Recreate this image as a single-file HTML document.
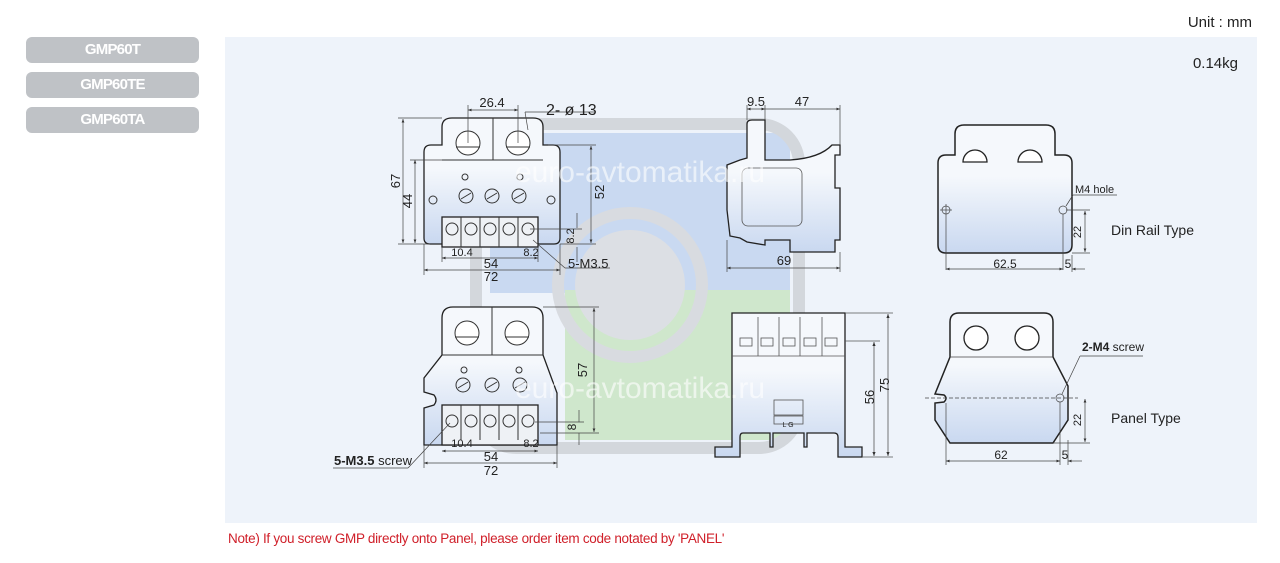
<!DOCTYPE html>
<html><head><meta charset="utf-8"><style>
body{margin:0;width:1280px;height:563px;background:#fff;font-family:"Liberation Sans",sans-serif;overflow:hidden;position:relative}
.tab{position:absolute;left:26px;width:173px;height:26px;background:#bfc2c6;border-radius:6px;color:#fff;font-weight:bold;font-size:15px;line-height:26px;text-align:center;letter-spacing:-0.8px}
.t{font-family:"Liberation Sans",sans-serif;fill:#222}
</style></head><body>
<div class="tab" style="top:37px">GMP60T</div>
<div class="tab" style="top:72px">GMP60TE</div>
<div class="tab" style="top:107px">GMP60TA</div>
<div style="position:absolute;right:28px;top:14px;font-size:15px;color:#222">Unit : mm</div>
<div style="position:absolute;left:228px;top:531px;font-size:13.5px;color:#d0202a;letter-spacing:-0.3px">Note) If you screw GMP directly onto Panel, please order item code notated by 'PANEL'</div>
<svg width="1280" height="563" style="position:absolute;left:0;top:0" xmlns="http://www.w3.org/2000/svg">
<defs>
<linearGradient id="g" x1="0" y1="0" x2="0" y2="1"><stop offset="0.4" stop-color="#f5f8fc"/><stop offset="1" stop-color="#c9d8f0"/></linearGradient>
<marker id="a" markerWidth="6" markerHeight="6" refX="5" refY="3" orient="auto-start-reverse"><path d="M0,1 L5,3 L0,5z" fill="#333"/></marker>
</defs>
<rect x="225" y="37" width="1032" height="486" fill="#eef3fa"/>
<text x="1238" y="68" font-size="15" class="t" text-anchor="end">0.14kg</text>
<!-- watermark -->
<rect x="490" y="133" width="300" height="160" fill="#c9d9f1"/>
<rect x="565" y="290" width="225" height="150" fill="#cfe7cc"/>
<rect x="476" y="124" width="323" height="324" rx="40" fill="none" stroke="#d3d7dc" stroke-width="12"/>
<circle cx="630" cy="285" r="72" fill="none" stroke="#d8dbe0" stroke-width="12"/>
<circle cx="630" cy="285" r="55" fill="#dcdfe4"/>
<!-- TOP FRONT -->
<g stroke="#222" stroke-width="1.3" fill="url(#g)">
<path d="M442,127 Q442,118 452,118 L533,118 Q543,118 543,127 L543,145 L553,145 Q560,145 560,152 L560,238 Q560,244 554,244 L430,244 Q424,244 424,238 L424,152 Q424,145 431,145 L442,145 Z"/>
<rect x="442" y="217" width="96" height="30" fill="#eef1f5"/>
</g>
<g stroke="#333" fill="none" stroke-width="1">
<line x1="493" y1="118" x2="493" y2="160"/><line x1="442" y1="160" x2="543" y2="160"/>
<circle cx="468" cy="143" r="12" fill="#fff"/><circle cx="518" cy="143" r="12" fill="#fff"/>
<line x1="456" y1="147" x2="480" y2="147"/><line x1="506" y1="147" x2="530" y2="147"/>
<circle cx="433" cy="200" r="4"/><circle cx="551" cy="200" r="4"/>
<circle cx="465" cy="177" r="3"/><circle cx="520" cy="177" r="3"/>
<circle cx="466" cy="196" r="7"/><circle cx="492" cy="196" r="7"/><circle cx="519" cy="196" r="7"/>
<line x1="461" y1="199" x2="471" y2="193"/><line x1="487" y1="199" x2="497" y2="193"/><line x1="514" y1="199" x2="524" y2="193"/>
<line x1="461" y1="217" x2="461" y2="247"/><line x1="480" y1="217" x2="480" y2="247"/><line x1="499" y1="217" x2="499" y2="247"/><line x1="518" y1="217" x2="518" y2="247"/>
<circle cx="452" cy="229" r="6"/><circle cx="471" cy="229" r="6"/><circle cx="490" cy="229" r="6"/><circle cx="509" cy="229" r="6"/><circle cx="528" cy="229" r="6"/>
</g>
<g stroke="#444" stroke-width="0.7" fill="none">
<line x1="468" y1="110" x2="518" y2="110" marker-start="url(#a)" marker-end="url(#a)"/>
<line x1="468" y1="105" x2="468" y2="143"/><line x1="518" y1="105" x2="518" y2="143"/>
<line x1="403" y1="119" x2="403" y2="243" marker-start="url(#a)" marker-end="url(#a)"/>
<line x1="398" y1="118" x2="442" y2="118"/><line x1="398" y1="244" x2="430" y2="244"/>
<line x1="415" y1="160" x2="415" y2="243" marker-start="url(#a)" marker-end="url(#a)"/>
<line x1="410" y1="160" x2="442" y2="160"/>
<line x1="591" y1="146" x2="591" y2="243" marker-start="url(#a)" marker-end="url(#a)"/>
<line x1="548" y1="145" x2="596" y2="145"/><line x1="560" y1="244" x2="596" y2="244"/>
<line x1="577" y1="213" x2="577" y2="228"/><line x1="577" y1="262" x2="577" y2="247"/>
<line x1="530" y1="229" x2="582" y2="229"/>
<line x1="424" y1="270" x2="560" y2="270" marker-start="url(#a)" marker-end="url(#a)"/>
<line x1="442" y1="258" x2="538" y2="258" marker-start="url(#a)" marker-end="url(#a)"/>
<line x1="424" y1="244" x2="424" y2="275"/><line x1="560" y1="244" x2="560" y2="275"/>
<line x1="442" y1="247" x2="442" y2="262"/><line x1="538" y1="247" x2="538" y2="262"/>
<line x1="525" y1="112" x2="595" y2="112"/><line x1="525" y1="112" x2="528" y2="130"/>
<line x1="533" y1="240" x2="565" y2="268"/><line x1="565" y1="268" x2="610" y2="268"/>
</g>
<text x="492" y="107" font-size="13" class="t" text-anchor="middle">26.4</text>
<text x="546" y="115" font-size="16" class="t">2- ø 13</text>
<text x="400" y="181" font-size="13" class="t" text-anchor="middle" transform="rotate(-90 400 181)">67</text>
<text x="412" y="201" font-size="13" class="t" text-anchor="middle" transform="rotate(-90 412 201)">44</text>
<text x="604" y="192" font-size="13" class="t" text-anchor="middle" transform="rotate(-90 604 192)">52</text>
<text x="574" y="236" font-size="11" class="t" text-anchor="middle" transform="rotate(-90 574 236)">8.2</text>
<text x="462" y="256" font-size="11" class="t" text-anchor="middle">10.4</text>
<text x="531" y="256" font-size="11" class="t" text-anchor="middle">8.2</text>
<text x="491" y="268" font-size="13" class="t" text-anchor="middle">54</text>
<text x="491" y="281" font-size="13" class="t" text-anchor="middle">72</text>
<text x="568" y="268" font-size="13" class="t">5-M3.5</text>
<!-- TOP SIDE -->
<g stroke="#222" stroke-width="1.3" fill="url(#g)">
<path d="M747,158 L747,124 Q747,120 752,120 L765,120 L765,160 L790,160 Q820,158 832,145 L840,145 L840,155 L835,155 L835,188 L840,188 L840,240 L835,240 L835,252 L790,252 L790,240 L765,240 L765,245 L747,242 L740,238 L730,236 L727,210 L727,165 L740,160 Z"/>
</g>
<rect x="742" y="168" width="60" height="58" rx="6" fill="none" stroke="#555" stroke-width="0.8"/>
<g stroke="#444" stroke-width="0.7" fill="none">
<line x1="747" y1="109" x2="765" y2="109" marker-start="url(#a)" marker-end="url(#a)"/>
<line x1="765" y1="109" x2="840" y2="109" marker-end="url(#a)"/>
<line x1="747" y1="105" x2="747" y2="120"/><line x1="765" y1="105" x2="765" y2="120"/><line x1="840" y1="105" x2="840" y2="145"/>
<line x1="727" y1="268" x2="840" y2="268" marker-start="url(#a)" marker-end="url(#a)"/>
<line x1="727" y1="240" x2="727" y2="272"/><line x1="840" y1="252" x2="840" y2="272"/>
</g>
<text x="756" y="106" font-size="13" class="t" text-anchor="middle">9.5</text>
<text x="802" y="106" font-size="13" class="t" text-anchor="middle">47</text>
<text x="784" y="265" font-size="13" class="t" text-anchor="middle">69</text>
<!-- DIN RAIL -->
<g stroke="#222" stroke-width="1.5" fill="url(#g)">
<path d="M955,134 Q955,125 964,125 L1046,125 Q1055,125 1055,134 L1055,155 L1064,155 Q1072,155 1072,163 L1072,245 Q1072,253 1064,253 L946,253 Q938,253 938,245 L938,163 Q938,155 946,155 L955,155 Z"/>
</g>
<g stroke="#222" stroke-width="1.3" fill="#fff">
<path d="M963,162 A12,12 0 0 1 987,162 Z"/><path d="M1018,162 A12,12 0 0 1 1042,162 Z"/>
</g>
<g stroke="#444" stroke-width="0.7" fill="none">
<circle cx="946" cy="210" r="4"/><circle cx="1063" cy="210" r="4"/>
<line x1="940" y1="210" x2="952" y2="210"/><line x1="946" y1="204" x2="946" y2="270"/><line x1="1063" y1="214" x2="1063" y2="270"/>
<line x1="946" y1="269" x2="1063" y2="269" marker-start="url(#a)" marker-end="url(#a)"/>
<line x1="1072" y1="255" x2="1072" y2="272"/><line x1="1085" y1="269" x2="1072" y2="269" marker-end="url(#a)"/>
<line x1="1085" y1="211" x2="1085" y2="252" marker-start="url(#a)" marker-end="url(#a)"/>
<line x1="1066" y1="210" x2="1090" y2="210"/><line x1="1072" y1="253" x2="1090" y2="253"/>
<line x1="1073" y1="195" x2="1117" y2="195"/><line x1="1073" y1="195" x2="1066" y2="206"/>
</g>
<text x="1075" y="193" font-size="11" class="t">M4 hole</text>
<text x="1081" y="232" font-size="11" class="t" text-anchor="middle" transform="rotate(-90 1081 232)">22</text>
<text x="1005" y="268" font-size="12" class="t" text-anchor="middle">62.5</text>
<text x="1068" y="268" font-size="12" class="t" text-anchor="middle">5</text>
<text x="1111" y="235" font-size="14" class="t">Din Rail Type</text>
<!-- BOTTOM FRONT -->
<g stroke="#222" stroke-width="1.3" fill="url(#g)">
<path d="M442,318 Q442,307 453,307 L532,307 Q543,307 543,318 L543,355 L557,393 L557,445 L424,445 L424,408 L434,405 Q438,400 434,395 L424,392 L424,378 L442,355 Z"/>
<rect x="442" y="405" width="96" height="40" fill="#eef1f5"/>
</g>
<g stroke="#333" fill="none" stroke-width="1">
<line x1="492" y1="307" x2="492" y2="355"/><line x1="442" y1="355" x2="543" y2="355"/>
<circle cx="467" cy="333" r="12" fill="#fff"/><circle cx="517" cy="333" r="12" fill="#fff"/>
<line x1="455" y1="337" x2="479" y2="337"/><line x1="505" y1="337" x2="529" y2="337"/>
<circle cx="464" cy="370" r="3"/><circle cx="519" cy="370" r="3"/>
<circle cx="463" cy="385" r="7"/><circle cx="492" cy="385" r="7"/><circle cx="520" cy="385" r="7"/>
<line x1="458" y1="388" x2="468" y2="382"/><line x1="487" y1="388" x2="497" y2="382"/><line x1="515" y1="388" x2="525" y2="382"/>
<line x1="461" y1="405" x2="461" y2="440"/><line x1="480" y1="405" x2="480" y2="440"/><line x1="499" y1="405" x2="499" y2="440"/><line x1="518" y1="405" x2="518" y2="440"/>
<circle cx="452" cy="421" r="6"/><circle cx="471" cy="421" r="6"/><circle cx="490" cy="421" r="6"/><circle cx="509" cy="421" r="6"/><circle cx="528" cy="421" r="6"/>
</g>
<g stroke="#444" stroke-width="0.7" fill="none">
<line x1="594" y1="308" x2="594" y2="432" marker-start="url(#a)" marker-end="url(#a)"/>
<line x1="543" y1="307" x2="599" y2="307"/><line x1="540" y1="433" x2="599" y2="433"/>
<line x1="579" y1="410" x2="579" y2="422"/><line x1="579" y1="445" x2="579" y2="433"/><line x1="535" y1="422" x2="584" y2="422"/>
<line x1="424" y1="463" x2="557" y2="463" marker-start="url(#a)" marker-end="url(#a)"/>
<line x1="442" y1="451" x2="538" y2="451" marker-start="url(#a)" marker-end="url(#a)"/>
<line x1="424" y1="445" x2="424" y2="468"/><line x1="557" y1="445" x2="557" y2="468"/>
<line x1="333" y1="468" x2="408" y2="468"/><line x1="408" y1="468" x2="450" y2="423"/>
</g>
<text x="587" y="370" font-size="13" class="t" text-anchor="middle" transform="rotate(-90 587 370)">57</text>
<text x="576" y="427" font-size="12" class="t" text-anchor="middle" transform="rotate(-90 576 427)">8</text>
<text x="462" y="447" font-size="11" class="t" text-anchor="middle">10.4</text>
<text x="531" y="447" font-size="11" class="t" text-anchor="middle">8.2</text>
<text x="491" y="461" font-size="13" class="t" text-anchor="middle">54</text>
<text x="491" y="475" font-size="13" class="t" text-anchor="middle">72</text>
<text x="334" y="465" font-size="13" class="t"><tspan font-weight="bold">5-M3.5</tspan> screw</text>
<!-- BOTTOM SIDE -->
<g stroke="#222" stroke-width="1.3" fill="url(#g)">
<path d="M732,313 L845,313 L845,447 L862,447 L862,457 L838,457 L838,437 Q838,433 834,433 L807,433 L807,447 L804,447 L804,433 L773,433 L773,447 L770,447 L770,433 L743,433 Q740,433 740,437 L740,457 L715,457 L715,447 L732,447 Z"/>
</g>
<g stroke="#555" stroke-width="0.8" fill="none">
<line x1="732" y1="356" x2="845" y2="356"/>
<line x1="758" y1="317" x2="758" y2="356"/><line x1="779" y1="317" x2="779" y2="356"/><line x1="800" y1="317" x2="800" y2="356"/><line x1="822" y1="317" x2="822" y2="356"/>
<rect x="740" y="338" width="12" height="8"/><rect x="761" y="338" width="12" height="8"/><rect x="783" y="338" width="12" height="8"/><rect x="804" y="338" width="12" height="8"/><rect x="825" y="338" width="12" height="8"/>
<rect x="774" y="400" width="29" height="15"/><rect x="774" y="416" width="29" height="8"/>
<line x1="845" y1="313" x2="893" y2="313"/><line x1="845" y1="341" x2="880" y2="341"/><line x1="862" y1="457" x2="893" y2="457"/>
<line x1="888" y1="314" x2="888" y2="456" marker-start="url(#a)" marker-end="url(#a)"/>
<line x1="874" y1="342" x2="874" y2="456" marker-start="url(#a)" marker-end="url(#a)"/>
</g>
<text x="788" y="427" font-size="7" class="t" text-anchor="middle">L G</text>
<text x="874" y="397" font-size="13" class="t" text-anchor="middle" transform="rotate(-90 874 397)">56</text>
<text x="889" y="385" font-size="13" class="t" text-anchor="middle" transform="rotate(-90 889 385)">75</text>
<!-- PANEL -->
<g stroke="#222" stroke-width="1.5" fill="url(#g)">
<path d="M950,322 Q950,313 959,313 L1044,313 Q1053,313 1053,322 L1053,357 L1068,386 L1068,420 L1053,443 L950,443 L935,420 L935,403 L944,402 Q948,398 944,395 L935,394 L950,357 Z"/>
</g>
<g stroke="#222" stroke-width="1.3" fill="#fff">
<circle cx="976" cy="338" r="12"/><circle cx="1027" cy="338" r="12"/>
</g>
<g stroke="#444" stroke-width="0.7" fill="none">
<line x1="950" y1="357" x2="1053" y2="357"/>
<line x1="925" y1="398" x2="1078" y2="398" stroke-dasharray="4,2"/>
<circle cx="1060" cy="398" r="4"/>
<line x1="946" y1="403" x2="946" y2="465"/><line x1="1060" y1="402" x2="1060" y2="465"/>
<line x1="946" y1="461" x2="1060" y2="461" marker-start="url(#a)" marker-end="url(#a)"/>
<line x1="1068" y1="440" x2="1068" y2="465"/><line x1="1082" y1="461" x2="1068" y2="461" marker-end="url(#a)"/>
<line x1="1085" y1="399" x2="1085" y2="442" marker-start="url(#a)" marker-end="url(#a)"/>
<line x1="1053" y1="443" x2="1090" y2="443"/>
<line x1="1080" y1="356" x2="1143" y2="356"/><line x1="1080" y1="356" x2="1062" y2="394"/>
</g>
<text x="1082" y="351" font-size="12" class="t"><tspan font-weight="bold">2-M4</tspan> screw</text>
<text x="1081" y="420" font-size="11" class="t" text-anchor="middle" transform="rotate(-90 1081 420)">22</text>
<text x="1001" y="459" font-size="12" class="t" text-anchor="middle">62</text>
<text x="1065" y="459" font-size="12" class="t" text-anchor="middle">5</text>
<text x="1111" y="423" font-size="14" class="t">Panel Type</text>
<!-- watermark text -->
<text x="640" y="182" font-size="30" fill="#ffffff" fill-opacity="0.6" text-anchor="middle">euro-avtomatika.ru</text>
<text x="640" y="398" font-size="30" fill="#ffffff" fill-opacity="0.6" text-anchor="middle">euro-avtomatika.ru</text>
</svg>
</body></html>
